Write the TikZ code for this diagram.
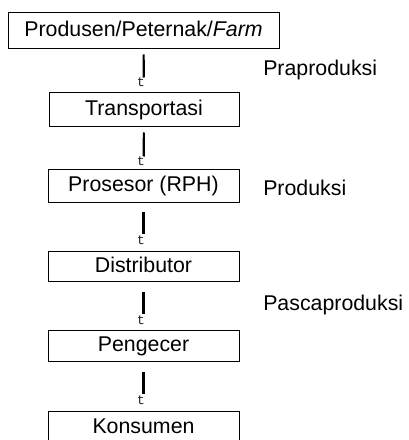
\documentclass[tikz,border=0pt]{standalone}
\usepackage{fontspec}
\setmainfont{Liberation Sans}
\newfontfamily\monofont{Liberation Mono}
\begin{document}
\begin{tikzpicture}[x=0.75pt,y=0.75pt,
	box/.style={draw,line width=0.75pt,inner sep=0pt,font=\fontsize{16}{19}\selectfont,text height=11.5pt,text depth=3.5pt},
	bar/.style={line width=1.6pt},
	tglyph/.style={inner sep=0pt,font=\monofont\fontsize{10}{11}\selectfont,text=black!85},
	stage/.style={inner sep=0pt,anchor=base west,font=\fontsize{16}{19}\selectfont}]
			\useasboundingbox (0,0) rectangle (408,440);
			\node[box,minimum width=203.25pt,minimum height=27pt] (prod) at (143.5,409) {Produsen/Peternak/\textit{Farm}};
			\node[box,minimum width=142.5pt,minimum height=25.5pt] (trans) at (144,330) {Transportasi};
			\node[box,minimum width=143.25pt,minimum height=24.75pt] (pros) at (143.5,253.5) {Prosesor (RPH)};
			\node[box,minimum width=143.25pt,minimum height=22.5pt] (dist) at (143.5,173) {Distributor};
			\node[box,minimum width=143.25pt,minimum height=23.25pt] (peng) at (143.5,93.5) {Pengecer};
			\node[box,minimum width=143.25pt,minimum height=24pt] (kons) at (143.5,12) {Konsumen};
			\draw[bar,shorten <=3.75pt,shorten >=11.25pt] (prod) -- (trans);
			\draw[bar,shorten <=3.75pt,shorten >=9.75pt] (trans) -- (pros);
			\draw[bar,shorten <=6.75pt,shorten >=12.75pt] (pros) -- (dist);
			\draw[bar,shorten <=7.5pt,shorten >=12pt] (dist) -- (peng);
			\draw[bar,shorten <=7.5pt,shorten >=12.75pt] (peng) -- (kons);
			\node[tglyph] (t1) at (141,358) {t};
			\node[tglyph] (t2) at (141,279) {t};
			\node[tglyph] (t3) at (141,200) {t};
			\node[tglyph] (t4) at (141,120) {t};
			\node[tglyph] (t5) at (141,40) {t};
			\node[stage] (pra) at (263,364) {Praproduksi};
			\node[stage] (pro) at (263,244) {Produksi};
			\node[stage] (pasca) at (263,129) {Pascaproduksi};
			\end{tikzpicture}
\end{document}
